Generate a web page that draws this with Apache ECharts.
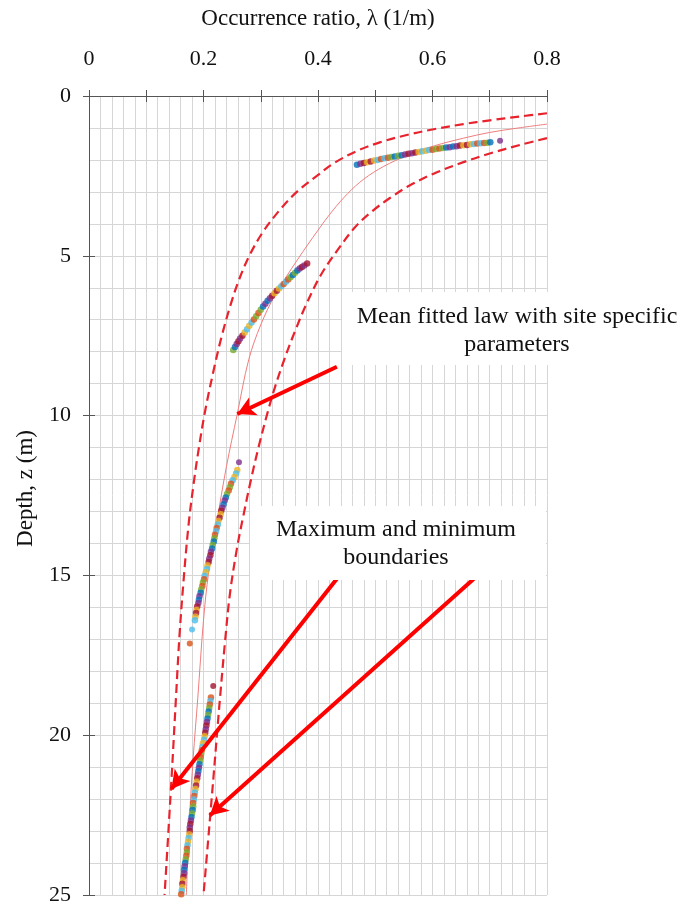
<!DOCTYPE html>
<html>
<head>
<meta charset="utf-8">
<script src="https://cdn.jsdelivr.net/npm/echarts@6/dist/echarts.min.js"></script>
<style>html,body{margin:0;padding:0;background:#fff}#c{width:680px;height:906px}</style>
</head>
<body>
<div id="c"></div>
<script>
// ---------- data ----------
const xTickLabels = ['0', '0.2', '0.4', '0.6', '0.8'];
const yTickLabels = ['0', '5', '10', '15', '20', '25'];

// [lambda, depth]
const meanLaw = [[0.80,0.88],[0.75,1.00],[0.70,1.14],[0.654,1.32],[0.603,1.56],[0.556,1.86],[0.515,2.20],[0.48,2.60],[0.452,3.05],[0.425,3.60],[0.400,4.20],[0.365,5.10],[0.325,6.23],[0.300,7.16],[0.279,8.25],[0.259,9.95],[0.240,11.6],[0.223,13.36],[0.209,14.9],[0.200,16.4],[0.190,18.84],[0.182,20.7],[0.176,22.46],[0.170,25.0]];
const lowerBound = [[0.80,0.54],[0.753,0.64],[0.70,0.76],[0.654,0.88],[0.602,1.04],[0.555,1.22],[0.508,1.45],[0.468,1.72],[0.428,2.1],[0.398,2.5],[0.363,3.0],[0.334,3.55],[0.304,4.25],[0.28,5.0],[0.262,5.75],[0.247,6.55],[0.232,7.5],[0.22,8.4],[0.203,9.84],[0.192,11.0],[0.183,12.1],[0.174,13.4],[0.165,15.2],[0.158,16.9],[0.152,18.8],[0.144,21.4],[0.132,25.0]];
const upperBound = [[0.80,1.32],[0.753,1.53],[0.70,1.80],[0.654,2.07],[0.602,2.43],[0.56,2.80],[0.525,3.2],[0.495,3.6],[0.465,4.1],[0.435,4.8],[0.405,5.6],[0.38,6.5],[0.36,7.35],[0.342,8.2],[0.325,9.1],[0.312,9.9],[0.296,11.0],[0.283,12.0],[0.27,13.1],[0.258,14.2],[0.246,15.6],[0.238,17.0],[0.229,18.8],[0.217,21.4],[0.200,25.0]];

const seg1 = [[0.468,2.15],[0.474,2.12],[0.480,2.10],[0.486,2.07],[0.492,2.05],[0.498,2.02],[0.504,2.00],[0.510,1.97],[0.516,1.95],[0.522,1.93],[0.528,1.91],[0.534,1.89],[0.540,1.87],[0.546,1.85],[0.552,1.83],[0.558,1.81],[0.564,1.79],[0.570,1.77],[0.576,1.75],[0.582,1.73],[0.588,1.71],[0.594,1.69],[0.600,1.68],[0.606,1.66],[0.612,1.64],[0.618,1.63],[0.624,1.61],[0.630,1.60],[0.636,1.58],[0.642,1.57],[0.648,1.55],[0.654,1.54],[0.660,1.53],[0.666,1.51],[0.672,1.50],[0.678,1.49],[0.684,1.48],[0.690,1.47],[0.696,1.46],[0.701,1.45]];
const seg2 = [[0.252,7.95],[0.255,7.85],[0.258,7.76],[0.261,7.67],[0.264,7.59],[0.268,7.50],[0.272,7.40],[0.276,7.30],[0.280,7.19],[0.284,7.09],[0.288,6.99],[0.292,6.89],[0.296,6.79],[0.300,6.69],[0.304,6.59],[0.308,6.50],[0.312,6.41],[0.316,6.33],[0.320,6.25],[0.324,6.17],[0.328,6.09],[0.332,6.02],[0.336,5.95],[0.340,5.88],[0.344,5.81],[0.348,5.74],[0.352,5.67],[0.356,5.60],[0.360,5.53],[0.364,5.46],[0.368,5.40],[0.372,5.35],[0.376,5.30],[0.381,5.24]];
const seg3 = [[0.259,11.70],[0.257,11.81],[0.254,11.92],[0.251,12.02],[0.248,12.13],[0.246,12.24],[0.244,12.34],[0.241,12.45],[0.239,12.56],[0.237,12.66],[0.235,12.77],[0.233,12.88],[0.231,12.98],[0.230,13.09],[0.228,13.20],[0.226,13.30],[0.225,13.41],[0.223,13.52],[0.222,13.62],[0.220,13.73],[0.219,13.84],[0.218,13.94],[0.216,14.05],[0.215,14.16],[0.213,14.26],[0.212,14.37],[0.210,14.48],[0.209,14.58],[0.207,14.69],[0.206,14.80],[0.204,14.90],[0.202,15.01],[0.201,15.12],[0.199,15.22],[0.198,15.33],[0.196,15.44],[0.195,15.54],[0.193,15.65],[0.192,15.76],[0.191,15.86],[0.189,15.97],[0.188,16.08],[0.187,16.18],[0.186,16.29],[0.185,16.40]];
const seg4 = [[0.213,18.82],[0.212,18.93],[0.211,19.04],[0.210,19.15],[0.209,19.26],[0.208,19.37],[0.207,19.48],[0.206,19.59],[0.205,19.70],[0.204,19.81],[0.203,19.92],[0.202,20.03],[0.201,20.14],[0.199,20.25],[0.198,20.36],[0.197,20.47],[0.196,20.58],[0.195,20.69],[0.194,20.80],[0.193,20.91],[0.192,21.02],[0.191,21.13],[0.190,21.24],[0.189,21.35],[0.188,21.46],[0.187,21.57],[0.186,21.68],[0.185,21.79],[0.184,21.90],[0.183,22.01],[0.182,22.12],[0.182,22.23],[0.181,22.34],[0.180,22.45],[0.179,22.56],[0.178,22.67],[0.177,22.78],[0.176,22.89],[0.176,23.00],[0.175,23.11],[0.174,23.22],[0.173,23.33],[0.172,23.44],[0.171,23.55],[0.171,23.66],[0.170,23.77],[0.169,23.88],[0.168,23.99],[0.167,24.10],[0.166,24.21],[0.166,24.32],[0.165,24.43],[0.164,24.54],[0.163,24.65],[0.163,24.76],[0.162,24.87],[0.161,24.98]];
const outliers = [[0.718,1.40],[0.262,11.46],[0.180,16.69],[0.176,17.13],[0.217,18.46]];

// arrows: [from, to] in data coordinates
const arrows = [
  [[0.433,8.47],[0.259,9.95]],
  [[0.4385,14.98],[0.144,21.68]],
  [[0.680,14.98],[0.211,22.51]]
];

// ---------- styles ----------
const palette = ['#0072BD','#D95319','#EDB120','#7E2F8E','#77AC30','#4DBEEE','#A2142F'];
const outlierColors = ['#7E2F8E','#7E2F8E','#4DBEEE','#D95319','#A2142F'];
const serif = 'Liberation Serif';
const axisColor = '#555';
const gridColor = '#d6d6d6';

const chart = echarts.init(document.getElementById('c'), null, {renderer: 'canvas'});

const scatterPts = [].concat(seg1, seg2, seg3, seg4);

const option = {
  animation: false,
  backgroundColor: '#fff',
  grid: {left: 89, right: 133, top: 96, bottom: 4, containLabel: false},
  xAxis: [
    {
      type: 'value', position: 'top', min: 0, max: 0.8, interval: 0.1,
      name: 'Occurrence ratio, λ (1/m)', nameLocation: 'middle', nameGap: 66,
      nameTextStyle: {fontFamily: serif, fontSize: 23, color: '#111'},
      axisLine: {show: true, lineStyle: {color: axisColor, width: 1}},
      axisTick: {show: true, inside: true, length: 6, lineStyle: {color: axisColor}},
      axisLabel: {
        fontFamily: serif, fontSize: 22, color: '#111', margin: 26,
        formatter: function (v) {
          const k = Math.round(v * 10);
          return k % 2 === 0 ? xTickLabels[k / 2] : '';
        }
      },
      splitLine: {show: true, lineStyle: {color: gridColor, width: 1}},
      minorTick: {show: false, splitNumber: 5},
      minorSplitLine: {show: true, lineStyle: {color: gridColor, width: 1}}
    },
    {
      type: 'value', position: 'bottom', min: 0, max: 0.8, interval: 0.1,
      axisLine: {show: true, lineStyle: {color: axisColor, width: 1}},
      axisTick: {show: true, inside: true, length: 6, lineStyle: {color: axisColor}},
      axisLabel: {show: false},
      splitLine: {show: false}
    }
  ],
  yAxis: [
    {
      type: 'value', inverse: true, position: 'left', min: 0, max: 25, interval: 5,
      name: 'Depth, z (m)', nameLocation: 'middle', nameGap: 52, nameRotate: 90,
      nameTextStyle: {fontFamily: serif, fontSize: 23, color: '#111', padding: [0, 0, 0, 14]},
      axisLine: {show: true, lineStyle: {color: axisColor, width: 1}},
      axisTick: {show: true, inside: true, length: 6, lineStyle: {color: axisColor}},
      axisLabel: {
        fontFamily: serif, fontSize: 22, color: '#111', margin: 18,
        formatter: function (v) { return yTickLabels[Math.round(v / 5)]; }
      },
      splitLine: {show: true, lineStyle: {color: gridColor, width: 1}},
      minorTick: {show: false, splitNumber: 5},
      minorSplitLine: {show: true, lineStyle: {color: gridColor, width: 1}}
    },
    {
      type: 'value', inverse: true, position: 'right', min: 0, max: 25, interval: 5,
      axisLine: {show: true, lineStyle: {color: axisColor, width: 1}},
      axisTick: {show: true, inside: true, length: 6, lineStyle: {color: axisColor}},
      axisLabel: {show: false},
      splitLine: {show: false}
    }
  ],
  series: [
    {
      name: 'mean', type: 'line', data: meanLaw, smooth: 0.35, showSymbol: false,
      lineStyle: {color: '#ef7d7d', width: 1}, z: 3
    },
    {
      name: 'lower', type: 'line', data: lowerBound, smooth: 0.35, showSymbol: false,
      lineStyle: {color: '#e8232d', width: 2.2, type: [9, 5]}, z: 3
    },
    {
      name: 'upper', type: 'line', data: upperBound, smooth: 0.35, showSymbol: false,
      lineStyle: {color: '#e8232d', width: 2.2, type: [9, 5]}, z: 3
    },
    {
      name: 'obs', type: 'scatter', data: scatterPts, symbolSize: 6.5,
      itemStyle: {color: function (p) { return palette[(p.dataIndex * 3 + (p.dataIndex >> 2)) % 7]; }},
      z: 4
    },
    {
      name: 'out', type: 'scatter', data: outliers, symbolSize: 6,
      itemStyle: {color: function (p) { return outlierColors[p.dataIndex]; }},
      z: 4,
      markLine: {
        silent: true, symbol: ['none', 'arrow'], symbolSize: [15, 18],
        label: {show: false},
        lineStyle: {color: '#ff0000', width: 4, type: 'solid'},
        data: arrows.map(function (a) { return [{coord: a[0]}, {coord: a[1]}]; })
      }
    }
  ],
  graphic: [
    {
      type: 'group', z: 100,
      children: [
        {type: 'rect', shape: {x: 342, y: 292, width: 338, height: 73}, style: {fill: '#fff'}, z: 100},
        {type: 'text', x: 517, y: 331, z: 101,
          style: {text: 'Mean fitted law with site specific\nparameters', font: '24px "Liberation Serif"',
            fill: '#111', textAlign: 'center', textVerticalAlign: 'middle', lineHeight: 28}},
        {type: 'rect', shape: {x: 250, y: 506, width: 296, height: 74}, style: {fill: '#fff'}, z: 100},
        {type: 'text', x: 396, y: 544, z: 101,
          style: {text: 'Maximum and minimum\nboundaries', font: '24px "Liberation Serif"',
            fill: '#111', textAlign: 'center', textVerticalAlign: 'middle', lineHeight: 28}}
      ]
    }
  ]
};
chart.setOption(option);
</script>
</body>
</html>
